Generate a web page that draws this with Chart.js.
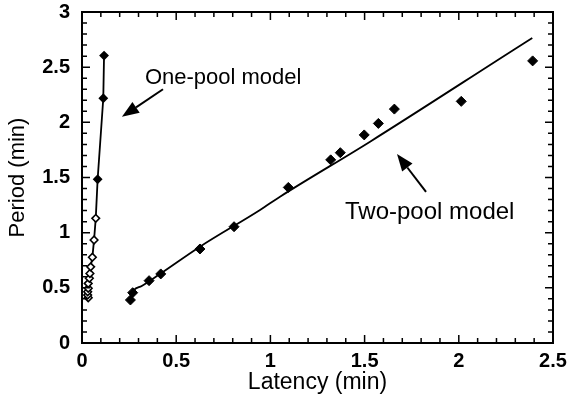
<!DOCTYPE html>
<html>
<head>
<meta charset="utf-8">
<script src="https://cdn.jsdelivr.net/npm/chart.js@4/dist/chart.umd.min.js"></script>
<style>
html, body { margin: 0; padding: 0; background: #fff; }
#wrap { width: 573px; height: 398px; }
</style>
</head>
<body>
<div id="wrap"><canvas id="chart" width="573" height="398"></canvas></div>
<script>
// One-pool measurements, latency and period in minutes
var onePoolLatency = [0.033, 0.030, 0.030, 0.033, 0.033, 0.039, 0.042, 0.046, 0.055, 0.064, 0.073, 0.083, 0.113, 0.117];
var onePoolPeriod  = [0.41, 0.435, 0.465, 0.496, 0.54, 0.587, 0.63, 0.69, 0.777, 0.934, 1.13, 1.484, 2.218, 2.605];

// Two-pool measurements
var twoPoolLatency = [0.257, 0.269, 0.356, 0.418, 0.626, 0.807, 1.095, 1.32, 1.371, 1.498, 1.573, 1.658, 2.013, 2.392];
var twoPoolPeriod  = [0.39, 0.456, 0.565, 0.626, 0.852, 1.054, 1.41, 1.66, 1.725, 1.886, 1.99, 2.12, 2.19, 2.557];

// Two-pool model curve
var twoPoolFitLatency = [0.258, 0.275, 0.317, 0.414, 0.626, 0.945, 1.051, 1.529, 2.29, 2.39];
var twoPoolFitPeriod  = [0.435, 0.48, 0.517, 0.626, 0.873, 1.206, 1.326, 1.825, 2.656, 2.765];

var xTicks = [0, 0.5, 1, 1.5, 2, 2.5];
var yTicks = [0, 0.5, 1, 1.5, 2, 2.5, 3];

function pairs(xs, ys) {
    return xs.map(function (x, i) { return { x: x, y: ys[i] }; });
}

var FONT = "'Liberation Sans', Arial, Helvetica, sans-serif";

// inward ticks on all four sides, closed frame, text labels with arrows
var framePlugin = {
    id: "frame",
    afterDatasetsDraw: function (chart) {
        var c = chart.ctx, a = chart.chartArea;
        var xs = chart.scales.x, ys = chart.scales.y;
        c.save();
        c.strokeStyle = "#000";
        c.lineWidth = 2;
        c.strokeRect(a.left, a.top, a.right - a.left, a.bottom - a.top);

        c.lineWidth = 1.5;
        var i, v, p, len;
        for (i = 0; i <= 25; i++) {
            v = i / 10;
            p = xs.getPixelForValue(v);
            len = (i % 5 === 0) ? 8 : 5;
            c.beginPath();
            c.moveTo(p, a.bottom); c.lineTo(p, a.bottom - len);
            c.moveTo(p, a.top); c.lineTo(p, a.top + len);
            c.stroke();
        }
        for (i = 0; i <= 30; i++) {
            v = i / 10;
            p = ys.getPixelForValue(v);
            len = (i % 5 === 0) ? 8 : 5;
            c.beginPath();
            c.moveTo(a.left, p); c.lineTo(a.left + len, p);
            c.moveTo(a.right, p); c.lineTo(a.right - len, p);
            c.stroke();
        }

        c.fillStyle = "#000";
        c.textBaseline = "middle";
        c.textAlign = "left";
        c.font = "22px " + FONT;
        c.fillText("One-pool model", xs.getPixelForValue(0.334), ys.getPixelForValue(2.40));
        c.font = "24px " + FONT;
        c.fillText("Two-pool model", xs.getPixelForValue(1.396), ys.getPixelForValue(1.18));

        arrow(c, xs.getPixelForValue(0.43), ys.getPixelForValue(2.30),
                 xs.getPixelForValue(0.212), ys.getPixelForValue(2.05));
        arrow(c, xs.getPixelForValue(1.826), ys.getPixelForValue(1.369),
                 xs.getPixelForValue(1.672), ys.getPixelForValue(1.713));
        c.restore();
    }
};

function arrow(c, x0, y0, x1, y1) {
    var ang = Math.atan2(y1 - y0, x1 - x0);
    var head = 17, half = 6.5;
    var bx = x1 - head * Math.cos(ang), by = y1 - head * Math.sin(ang);
    c.lineWidth = 2;
    c.beginPath();
    c.moveTo(x0, y0);
    c.lineTo(bx, by);
    c.stroke();
    c.beginPath();
    c.moveTo(x1, y1);
    c.lineTo(bx + half * Math.sin(ang), by - half * Math.cos(ang));
    c.lineTo(bx - half * Math.sin(ang), by + half * Math.cos(ang));
    c.closePath();
    c.fill();
}

function plainLabel(v) { return String(v); }

var ctx = document.getElementById("chart").getContext("2d");
var chart = new Chart(ctx, {
    type: "scatter",
    data: {
        datasets: [{
            label: "Two-pool model",
            data: pairs(twoPoolFitLatency, twoPoolFitPeriod),
            showLine: true,
            borderColor: "#000",
            borderWidth: 1.8,
            pointRadius: 0,
            cubicInterpolationMode: "monotone"
        }, {
            label: "Two-pool",
            data: pairs(twoPoolLatency, twoPoolPeriod),
            pointStyle: "rectRot",
            pointRadius: 5,
            backgroundColor: "#000",
            borderColor: "#000",
            borderWidth: 1
        }, {
            label: "One-pool",
            data: pairs(onePoolLatency, onePoolPeriod),
            showLine: true,
            borderColor: "#000",
            borderWidth: 1.8,
            pointStyle: "rectRot",
            pointRadius: 3.8,
            pointBorderWidth: 1.6,
            pointBorderColor: "#000",
            pointBackgroundColor: function (c) {
                return c.raw && c.raw.y > 1.4 ? "#000" : "#fff";
            }
        }]
    },
    options: {
        responsive: false,
        animation: false,
        devicePixelRatio: 1,
        layout: { padding: { top: 12, right: 20, left: 0, bottom: 0 } },
        plugins: {
            legend: { display: false },
            tooltip: { enabled: false }
        },
        scales: {
            x: {
                type: "linear",
                min: 0,
                max: 2.5,
                afterBuildTicks: function (axis) {
                    axis.ticks = xTicks.map(function (v) { return { value: v }; });
                },
                afterFit: function (axis) { axis.height = 55; },
                grid: { display: false, drawTicks: false },
                border: { display: true, color: "#000", width: 2 },
                ticks: {
                    color: "#000",
                    padding: 6,
                    maxRotation: 0,
                    autoSkip: false,
                    callback: plainLabel,
                    font: { family: FONT, size: 20, weight: "bold" }
                },
                title: {
                    display: true,
                    text: "Latency (min)",
                    color: "#000",
                    padding: { top: 0, bottom: 2 },
                    font: { family: FONT, size: 23 }
                }
            },
            y: {
                type: "linear",
                min: 0,
                max: 3,
                afterBuildTicks: function (axis) {
                    axis.ticks = yTicks.map(function (v) { return { value: v }; });
                },
                afterFit: function (axis) {
                    axis.width = 82;
                    axis.paddingTop = 0;
                    axis.paddingBottom = 0;
                },
                grid: { display: false, drawTicks: false },
                border: { display: true, color: "#000", width: 2 },
                ticks: {
                    color: "#000",
                    padding: 12,
                    autoSkip: false,
                    callback: plainLabel,
                    font: { family: FONT, size: 20, weight: "bold" }
                },
                title: {
                    display: true,
                    text: "Period (min)",
                    color: "#000",
                    padding: { top: 5, bottom: 0 },
                    font: { family: FONT, size: 22 }
                }
            }
        }
    },
    plugins: [framePlugin]
});
</script>
</body>
</html>
